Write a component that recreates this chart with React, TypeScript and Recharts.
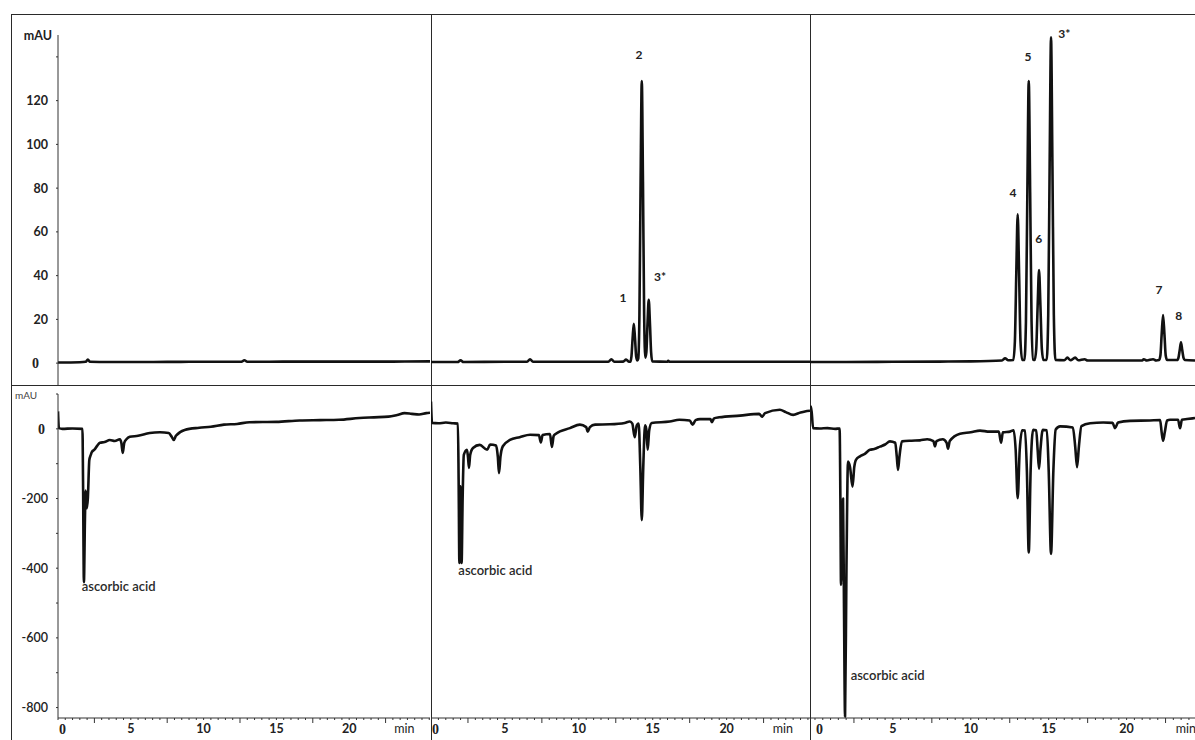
import React from "react";
import { LineChart, Line, XAxis, YAxis, ReferenceDot } from "recharts";

type Pt = [number, number];

// [retention time (min), signal (mAU)]
const uvBlank: Pt[] = [
  [0, 0.3], [1.5, 0.4], [1.9, 0.6], [2.05, 1.6], [2.2, 0.6], [3.5, 0.5], [6, 0.5],
  [9, 0.6], [12.6, 0.6], [12.8, 1.3], [13, 0.6], [16, 0.7], [20, 0.7], [23, 0.7], [25.55, 0.8],
];

const uvStandard: Pt[] = [
  [0, 0.5], [1.8, 0.5], [2.0, 1.3], [2.2, 0.5], [5, 0.6], [6.5, 0.6], [6.7, 1.8], [6.9, 0.6],
  [10, 0.6], [12.0, 0.6], [12.2, 1.8], [12.4, 0.6], [13.0, 0.7], [13.2, 1.6], [13.4, 0.6],
  [13.48, 0.6], [13.56, 3], [13.64, 11.5], [13.72, 18], [13.8, 11.5], [13.88, 3], [13.96, 1.2],
  [14.02, 2], [14.1, 22], [14.18, 83], [14.26, 129], [14.34, 83], [14.42, 22], [14.5, 2.5],
  [14.57, 5], [14.65, 18.5], [14.73, 29], [14.81, 18.5], [14.89, 5], [14.97, 0.8],
  [16.0, 0.6], [16.05, 1.1], [16.15, 0.6], [19, 0.6], [22, 0.6], [25.64, 0.6],
];

const uvSample: Pt[] = [
  [-0.32, 0.5], [2, 0.5], [5, 0.6], [8, 0.7], [10, 0.8], [12.0, 1.2], [12.2, 2.2], [12.4, 1.3],
  [12.73, 1.4], [12.83, 10], [12.92, 41], [13.01, 68], [13.1, 41], [13.19, 10], [13.3, 1.4],
  [13.44, 1.4], [13.54, 19], [13.63, 78], [13.72, 129], [13.81, 78], [13.9, 19], [14.0, 1.6],
  [14.1, 1.4], [14.2, 6.5], [14.29, 26], [14.38, 42.5], [14.47, 26], [14.56, 6.5], [14.66, 1.4],
  [14.87, 1.4], [14.97, 22], [15.06, 90], [15.15, 149], [15.24, 90], [15.33, 22], [15.43, 1.5],
  [16.0, 1.3], [16.2, 2.5], [16.4, 1.3], [16.7, 2.5], [16.9, 1.3], [17.3, 1.8], [17.5, 1.2],
  [20, 1.2], [21.0, 1.2], [21.1, 1.8], [21.3, 1.2], [21.7, 1.8], [21.9, 1.2],
  [22.08, 1.4], [22.17, 3.5], [22.25, 13], [22.34, 22], [22.43, 13], [22.51, 3.5], [22.6, 1.4],
  [23.25, 1.4], [23.33, 2.5], [23.41, 6], [23.49, 9.5], [23.57, 6], [23.65, 2.5], [23.73, 1.4],
  [24.39, 1.2],
];

const ecBlank: Pt[] = [
  [0, 50], [0.06, 2], [0.3, 0], [1.0, 1], [1.68, 0], [1.72, -150], [1.78, -440], [1.85, -260],
  [1.9, -177], [1.98, -228], [2.05, -200], [2.15, -90], [2.25, -75], [2.33, -66], [2.5, -60],
  [2.7, -48], [2.88, -40], [3.2, -38], [3.56, -32], [3.9, -35], [4.25, -30], [4.35, -40],
  [4.45, -69], [4.55, -40], [4.7, -30], [4.93, -23], [5.5, -20], [6.3, -12], [7.0, -10],
  [7.6, -12], [7.8, -22], [7.95, -32], [8.1, -20], [8.7, -3], [9.7, 3], [10.5, 6], [11.4, 12],
  [12.3, 14], [13.15, 19], [15, 20], [16.6, 24], [18, 25], [19.3, 26], [20.7, 31], [21.7, 33],
  [22.7, 35], [23.3, 40], [23.8, 45], [24.3, 43], [24.8, 41], [25.3, 45], [25.55, 46],
];

const ecStandard: Pt[] = [
  [0, 78], [0.07, 17], [0.5, 16], [1.0, 18], [1.5, 16], [1.82, 15], [1.87, -150], [1.92, -385],
  [1.99, -165], [2.07, -385], [2.14, -200], [2.22, -75], [2.43, -60], [2.5, -80], [2.57, -112],
  [2.65, -75], [2.84, -55], [3.3, -46], [3.8, -60], [4.0, -45], [4.4, -48], [4.52, -80],
  [4.6, -127], [4.7, -80], [4.86, -50], [5.34, -32], [6.0, -24], [6.7, -17], [7.3, -18],
  [7.43, -39], [7.55, -18], [8.05, -15], [8.18, -52], [8.3, -20], [8.45, -14], [9.4, 2],
  [10.07, 12], [10.5, 5], [10.6, -8], [10.75, 5], [11.1, 12], [12.1, 13], [13.1, 17],
  [13.45, 21], [13.62, 15], [13.78, -24], [13.92, 10], [14.05, 15], [14.16, -110], [14.26, -262],
  [14.36, -110], [14.48, 10], [14.56, 0], [14.66, -60], [14.76, -5], [14.93, 17], [16.15, 21],
  [16.8, 26], [17.5, 24], [17.7, 12], [17.9, 25], [18.2, 28], [18.9, 28], [19.0, 19],
  [19.15, 30], [19.5, 33], [20.9, 38], [22.2, 43], [22.4, 35], [22.6, 45], [23.6, 55],
  [24.0, 48], [24.5, 40], [25.0, 47], [25.3, 50], [25.64, 52],
];

const ecSample: Pt[] = [
  [-0.32, 55], [-0.25, 64], [-0.12, 2], [0.3, 1], [0.8, 2], [1.3, 0], [1.58, 1], [1.63, -200],
  [1.67, -448], [1.74, -300], [1.8, -200], [1.86, -500], [1.93, -826], [2.02, -400], [2.12, -94],
  [2.25, -110], [2.41, -166], [2.52, -110], [2.63, -89], [2.89, -79], [3.2, -72], [3.53, -60],
  [3.8, -58], [4.17, -51], [4.5, -45], [4.81, -36], [5.15, -40], [5.25, -80], [5.33, -118],
  [5.42, -80], [5.58, -36], [6.2, -34], [6.74, -33], [7.2, -30], [7.6, -35], [7.7, -50],
  [7.8, -35], [8.2, -30], [8.45, -40], [8.54, -57], [8.65, -35], [9.31, -14], [10.0, -10],
  [10.59, -5], [11.2, -8], [11.8, -8], [11.94, -40], [12.06, -10], [12.52, -8], [12.75, -4],
  [12.88, -60], [13.01, -199], [13.14, -60], [13.3, -4], [13.48, -5], [13.6, -120], [13.72, -355],
  [13.84, -120], [14.0, -3], [14.2, -4], [14.29, -60], [14.38, -115], [14.47, -60], [14.62, -3],
  [14.88, -4], [15.0, -120], [15.15, -359], [15.3, -120], [15.45, -2], [15.73, 7], [16.55, 4],
  [16.7, -50], [16.82, -110], [16.94, -50], [17.1, 8], [17.66, 16], [18.5, 18], [19.1, 17],
  [19.26, 2], [19.45, 18], [20.22, 23], [21.5, 24], [22.15, 25], [22.25, -10], [22.34, -34],
  [22.45, -10], [22.6, 24], [22.79, 26], [23.3, 26], [23.43, 2], [23.55, 26], [23.88, 28],
  [24.39, 31],
];

// peak labels: [label, time, mAU]
const standardPeaks: [string, number, number][] = [
  ["1", 12.99, 30],
  ["2", 14.07, 141],
  ["3*", 15.49, 39.5],
];
const samplePeaks: [string, number, number][] = [
  ["4", 12.71, 78],
  ["5", 13.67, 140],
  ["6", 14.36, 57],
  ["3*", 16.0, 150.5],
  ["7", 22.08, 33.5],
  ["8", 23.34, 21.5],
];

const ascorbicBlank: Pt = [1.63, -451];
const ascorbicStandard: Pt = [1.85, -405];
const ascorbicSample: Pt = [2.29, -709];

const uvTicks = [0, 20, 40, 60, 80, 100, 120, 140];
const uvTickLabels = ["0", "20", "40", "60", "80", "100", "120", ""];
const ecTicks = [100, 0, -100, -200, -300, -400, -500, -600, -700, -800];
const ecTickLabels = ["", "0", "", "-200", "", "-400", "", "-600", "", "-800"];
const timeLabelValues = [0, 5, 10, 15, 20, 24];
const timeLabelTexts = ["0", "5", "10", "15", "20", "min"];

const UV_DOMAIN: [number, number] = [-10, 150];
const EC_DOMAIN: [number, number] = [-830, 100];
const FONT = "Lato, 'Open Sans', sans-serif";
const INK = "#111";
const AXIS = "#333";

const toRows = (pts: Pt[]) => pts.map(([t, v]) => ({ t, v }));

const halfMinuteTicks = (hi: number) => {
  const out: number[] = [];
  for (let t = 0; t <= hi + 1e-6; t += 0.5) out.push(t);
  return out;
};

function TimeTick(props: any) {
  const { x, y, payload } = props;
  const value = payload.value as number;
  const idx = timeLabelValues.indexOf(value);
  const long = Math.abs((value % 5) - 2.5) < 0.01;
  const text = idx >= 0 ? timeLabelTexts[idx] : null;
  const isZero = value === 0;
  const isUnit = text === "min";
  return (
    <g>
      <line x1={x} x2={x} y1={y} y2={y + (long ? 5 : 2)} stroke={AXIS} strokeWidth={1} />
      {text && (
        <text
          x={isZero ? x + 1 : isUnit ? x - 3 : x}
          y={y + 11}
          dy="0.35em"
          textAnchor={isZero ? "start" : "middle"}
          fontSize={isZero ? 14 : 12.5}
          fontWeight={isUnit ? 400 : 700}
          fontFamily={isZero ? "'Liberation Serif', serif" : FONT}
          fill="#222"
        >
          {text}
        </text>
      )}
    </g>
  );
}

function MauTick(props: any) {
  const { x, y, payload, ticks, labels, zeroShift, weight } = props;
  const i = ticks.indexOf(payload.value);
  const text = i >= 0 ? labels[i] : "";
  if (!text) return null;
  const isZero = text === "0";
  return (
    <text
      x={isZero ? x - zeroShift : x}
      y={y}
      dy="0.35em"
      textAnchor="end"
      fontSize={isZero ? 14 : 12.5}
      fontWeight={isZero ? 700 : weight}
      fontFamily={isZero ? "'Liberation Serif', serif" : FONT}
      fill="#222"
    >
      {text}
    </text>
  );
}

interface PanelProps {
  left: number;
  top: number;
  width: number;
  height: number;
  pts: Pt[];
  xDomain: [number, number];
  row: "uv" | "ec";
  withYAxis?: boolean;
  peaks?: [string, number, number][];
  ascorbic?: Pt;
}

function Panel({ left, top, width, height, pts, xDomain, row, withYAxis, peaks, ascorbic }: PanelProps) {
  const isUv = row === "uv";
  const margin = isUv
    ? { top: 21, right: withYAxis ? 1 : 0, bottom: 0, left: 0 }
    : { top: 9, right: withYAxis ? 1 : 0, bottom: 0, left: 0 };
  return (
    <div style={{ position: "absolute", left, top }}>
      <LineChart width={width} height={height} data={toRows(pts)} margin={margin}>
        {isUv ? (
          <XAxis hide type="number" dataKey="t" domain={xDomain} allowDataOverflow />
        ) : (
          <XAxis
            type="number"
            dataKey="t"
            domain={xDomain}
            allowDataOverflow
            height={22}
            ticks={halfMinuteTicks(xDomain[1])}
            interval={0}
            tickSize={0}
            tickMargin={0}
            tickLine={false}
            axisLine={{ stroke: AXIS, strokeWidth: 1 }}
            tick={(p: any) => <TimeTick {...p} />}
          />
        )}
        <YAxis
          hide={!withYAxis}
          type="number"
          domain={isUv ? UV_DOMAIN : EC_DOMAIN}
          allowDataOverflow
          width={58}
          ticks={isUv ? uvTicks : ecTicks}
          interval={0}
          tickSize={2}
          tickMargin={8}
          tickLine={{ stroke: AXIS }}
          axisLine={{ stroke: AXIS, strokeWidth: 1 }}
          tick={(p: any) => (
            <MauTick
              {...p}
              ticks={isUv ? uvTicks : ecTicks}
              labels={isUv ? uvTickLabels : ecTickLabels}
              zeroShift={isUv ? 9 : 3}
              weight={isUv ? 700 : 600}
            />
          )}
        />
        <Line
          type="monotone"
          dataKey="v"
          stroke={INK}
          strokeWidth={2.6}
          strokeLinejoin="round"
          dot={false}
          activeDot={false}
          isAnimationActive={false}
        />
        {peaks?.map(([name, t, v]) => (
          <ReferenceDot
            key={name + t}
            x={t}
            y={v}
            r={0}
            fill="none"
            stroke="none"
            ifOverflow="visible"
            label={{ value: name, position: "center", fill: "#222", fontSize: 12, fontWeight: 700 }}
          />
        ))}
        {ascorbic && (
          <ReferenceDot
            x={ascorbic[0]}
            y={ascorbic[1]}
            r={0}
            fill="none"
            stroke="none"
            ifOverflow="visible"
            label={{ value: "ascorbic acid", position: "right", offset: 0, fill: "#2a2a2a", fontSize: 13, fontWeight: 600 }}
          />
        )}
      </LineChart>
    </div>
  );
}

const rule = (left: number, top: number, width: number, height: number) => (
  <div style={{ position: "absolute", left, top, width, height, background: "#2a2a2a" }} />
);

export default function App() {
  return (
    <div
      style={{
        position: "absolute",
        left: 0,
        top: 0,
        width: 1195,
        height: 740,
        background: "#fff",
        fontFamily: FONT,
        overflow: "hidden",
      }}
    >
      {rule(11, 14, 1184, 1)}
      {rule(11, 14, 1, 726)}
      {rule(11, 385, 1184, 1)}
      {rule(431, 14, 1, 726)}
      {rule(810, 14, 1, 726)}

      <Panel left={0} top={14} width={431} height={371} pts={uvBlank} xDomain={[0, 25.55]} row="uv" withYAxis />
      <Panel left={431} top={14} width={379} height={371} pts={uvStandard} xDomain={[0, 25.64]} row="uv" peaks={standardPeaks} />
      <Panel left={810} top={14} width={385} height={371} pts={uvSample} xDomain={[-0.32, 24.39]} row="uv" peaks={samplePeaks} />

      <Panel left={0} top={385} width={431} height={355} pts={ecBlank} xDomain={[0, 25.55]} row="ec" withYAxis ascorbic={ascorbicBlank} />
      <Panel left={431} top={385} width={379} height={355} pts={ecStandard} xDomain={[0, 25.64]} row="ec" ascorbic={ascorbicStandard} />
      <Panel left={810} top={385} width={385} height={355} pts={ecSample} xDomain={[-0.32, 24.39]} row="ec" ascorbic={ascorbicSample} />

      <div
        style={{
          position: "absolute",
          left: 10,
          top: 29,
          width: 42,
          textAlign: "right",
          fontSize: 12.5,
          fontWeight: 700,
          lineHeight: "13px",
          color: "#222",
        }}
      >
        mAU
      </div>
      <div
        style={{
          position: "absolute",
          left: 15,
          top: 390,
          fontSize: 10,
          lineHeight: "11px",
          color: "#444",
        }}
      >
        mAU
      </div>
    </div>
  );
}
